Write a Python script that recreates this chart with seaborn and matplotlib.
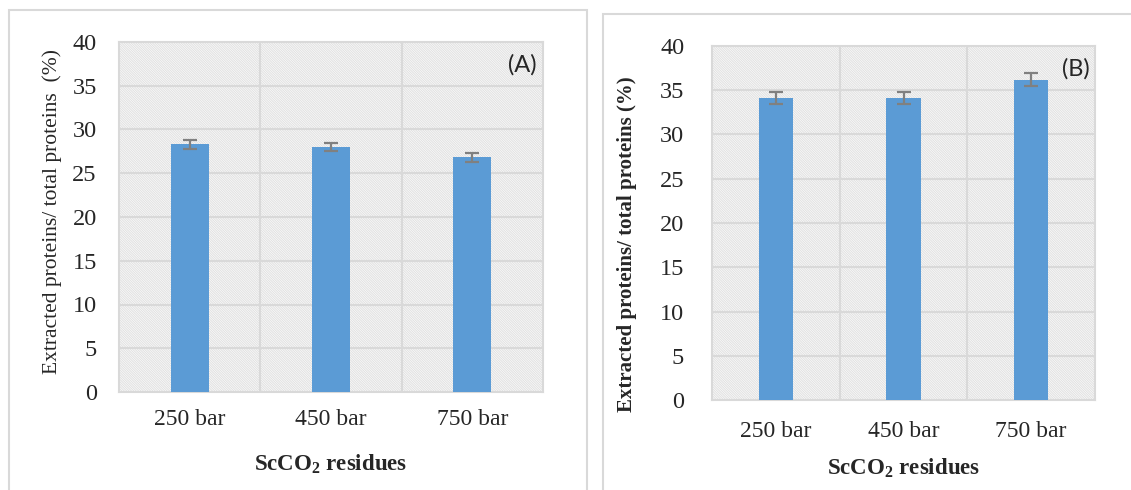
import pandas as pd
import matplotlib.pyplot as plt
import seaborn as sns
from matplotlib.patches import Rectangle

# Values
categories = ['250 bar', '450 bar', '750 bar']
values_a = [28.3, 28.0, 26.8]
errors_a = [0.55, 0.5, 0.5]
values_b = [34.1, 34.1, 36.2]
errors_b = [0.7, 0.7, 0.7]
y_ticks = [0, 5, 10, 15, 20, 25, 30, 35, 40]

sns.set_style('white')
plt.rcParams['font.family'] = ['Liberation Serif', 'DejaVu Serif']
plt.rcParams['mathtext.fontset'] = 'custom'
plt.rcParams['mathtext.rm'] = 'Liberation Serif'
plt.rcParams['mathtext.bf'] = 'Liberation Serif:bold'
plt.rcParams['hatch.linewidth'] = 0.8

bar_color = '#5B9BD5'
grid_color = '#d9d9d9'

fig = plt.figure(figsize=(11.31, 4.9), dpi=100)

# panel frames
fig.patches.append(Rectangle((8.5 / 1131, -0.1), (587 - 8.5) / 1131, 1.1 - 10 / 490,
                             transform=fig.transFigure, fill=False,
                             edgecolor=grid_color, linewidth=1.5))
fig.patches.append(Rectangle((603 / 1131, -0.1), 0.5, 1.1 - 14 / 490,
                             transform=fig.transFigure, fill=False,
                             edgecolor=grid_color, linewidth=1.5))

ax_a = fig.add_axes([119 / 1131, 98 / 490, 424 / 1131, 350 / 490])
ax_b = fig.add_axes([712 / 1131, 90 / 490, 383 / 1131, 354 / 490])


def draw_panel(ax, values, errors, tag, ylabel, ylabel_weight, ypad, xpad, xlabpad):
    df = pd.DataFrame({'cat': categories, 'val': values})
    ax.set_facecolor('white')
    ax.add_patch(Rectangle((0, 0), 1, 1, transform=ax.transAxes,
                           facecolor='white', edgecolor='#e2e2e2',
                           linewidth=0, hatch='\\' * 14, zorder=0))
    sns.barplot(data=df, x='cat', y='val', color=bar_color, width=0.27,
                saturation=1, linewidth=0, ax=ax, zorder=3)
    centers = [p.get_x() + p.get_width() / 2 for p in ax.patches if p.get_height() > 0 and p.get_width() < 0.5]
    ax.errorbar(centers, values, yerr=errors, fmt='none', ecolor='#808080',
                elinewidth=1.6, capsize=5, capthick=1.6, zorder=4)
    ax.set_ylim(0, 40)
    ax.set_xlim(-0.5, 2.5)
    ax.set_yticks(y_ticks)
    ax.set_yticklabels([str(t) for t in y_ticks])
    ax.set_xticks(range(3))
    ax.set_xticklabels(categories)
    for b in [0.5, 1.5]:
        ax.axvline(b, color=grid_color, linewidth=1.5, zorder=1)
    for t in y_ticks[1:-1]:
        ax.axhline(t, color=grid_color, linewidth=1.5, zorder=1)
    for s in ax.spines.values():
        s.set_color(grid_color)
        s.set_linewidth(1.5)
    ax.tick_params(axis='y', length=0, pad=ypad, labelsize=17.5)
    ax.tick_params(axis='x', length=0, pad=xpad, labelsize=17)
    ax.set_xlabel('ScCO$_\\mathbf{2}$ residues', fontsize=16.5, fontweight='bold', labelpad=xlabpad)
    ax.set_ylabel(ylabel, fontsize=15.5 if ylabel_weight == 'normal' else 15,
                  fontweight=ylabel_weight)
    ax.text(0.985, 0.935, tag, transform=ax.transAxes, ha='right', va='center',
            fontsize=17, family=['Lato', 'DejaVu Sans'], zorder=5)


draw_panel(ax_a, values_a, errors_a, '(A)', 'Extracted proteins/ total proteins  (%)', 'normal', 16, 12, 16)
draw_panel(ax_b, values_b, errors_b, '(B)', 'Extracted proteins/ total proteins (%)', 'bold', 20, 15, 10)

# place y labels by figure position like the reference
ax_a.yaxis.set_label_coords(-(119 - 62) / 424, 0.516)
ax_b.yaxis.set_label_coords(-(712 - 637) / 383, 0.44)

fig.savefig('out.png', dpi=100)
